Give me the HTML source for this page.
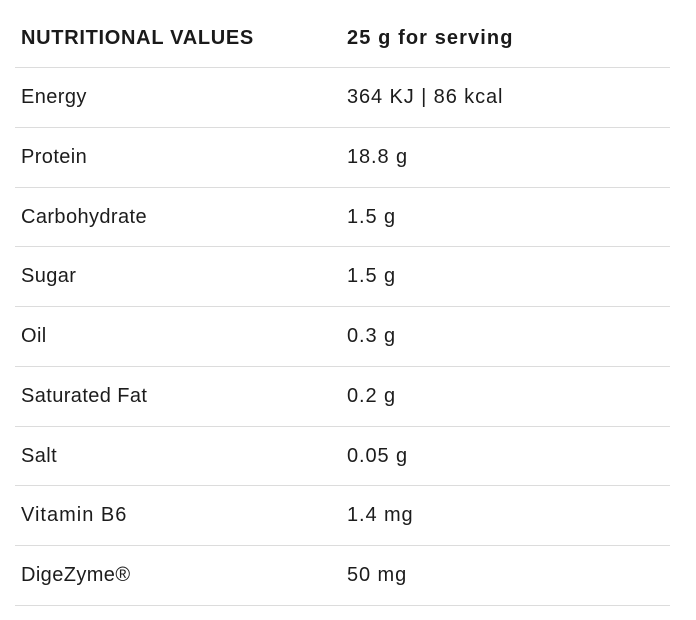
<!DOCTYPE html>
<html>
<head>
<meta charset="utf-8">
<style>
  html, body { margin:0; padding:0; background:#fff; }
  body { width:696px; height:620px; position:relative; overflow:hidden;
         font-family:"Liberation Sans", sans-serif; color:#1c1c1c; }
  .hdr { position:absolute; top:28px; font-size:20px; line-height:20px; font-weight:bold; letter-spacing:0.7px; color:#1a1a1a; }
  .line { position:absolute; left:15px; width:655px; height:1px; background:#dcdcdc; }
  .cell { position:absolute; font-size:20px; line-height:59.7px; height:59.7px; white-space:nowrap; letter-spacing:0.4px; margin-top:1px; }
  .l { left:21px; }
  .r { left:347px; letter-spacing:0.9px; }
</style>
</head>
<body>
  <div class="hdr" style="left:21px;">NUTRITIONAL VALUES</div>
  <div class="hdr" style="left:347px;letter-spacing:1.1px;">25 g for serving</div>

  <div class="line" style="top:67px"></div>
  <div class="cell l" style="top:67.3px">Energy</div>
  <div class="cell r" style="top:67.3px">364 KJ | 86 kcal</div>

  <div class="line" style="top:127px"></div>
  <div class="cell l" style="top:127px">Protein</div>
  <div class="cell r" style="top:127px">18.8 g</div>

  <div class="line" style="top:186.7px"></div>
  <div class="cell l" style="top:186.7px">Carbohydrate</div>
  <div class="cell r" style="top:186.7px">1.5 g</div>

  <div class="line" style="top:246.4px"></div>
  <div class="cell l" style="top:246.4px">Sugar</div>
  <div class="cell r" style="top:246.4px">1.5 g</div>

  <div class="line" style="top:306.1px"></div>
  <div class="cell l" style="top:306.1px">Oil</div>
  <div class="cell r" style="top:306.1px">0.3 g</div>

  <div class="line" style="top:365.8px"></div>
  <div class="cell l" style="top:365.8px">Saturated Fat</div>
  <div class="cell r" style="top:365.8px">0.2 g</div>

  <div class="line" style="top:425.5px"></div>
  <div class="cell l" style="top:425.5px">Salt</div>
  <div class="cell r" style="top:425.5px">0.05 g</div>

  <div class="line" style="top:485.2px"></div>
  <div class="cell l" style="top:485.2px;letter-spacing:1px;">Vitamin B6</div>
  <div class="cell r" style="top:485.2px">1.4 mg</div>

  <div class="line" style="top:544.9px"></div>
  <div class="cell l" style="top:544.9px">DigeZyme®</div>
  <div class="cell r" style="top:544.9px">50 mg</div>

  <div class="line" style="top:604.6px"></div>
</body>
</html>
